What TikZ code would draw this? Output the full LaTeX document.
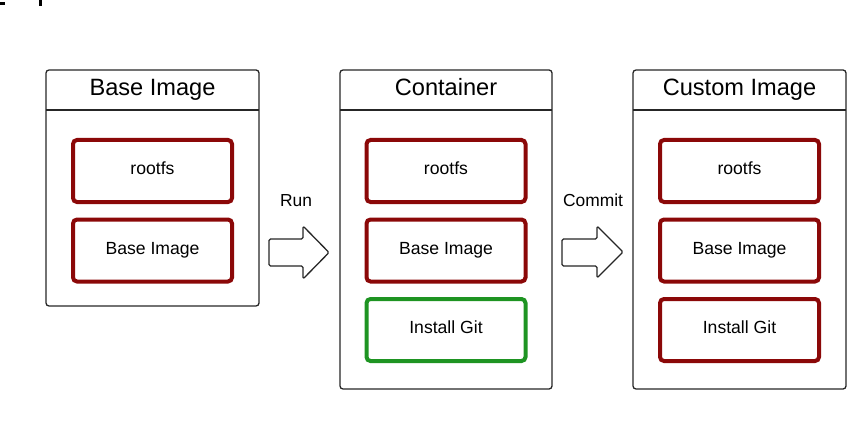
\documentclass[tikz,border=0pt]{standalone}
\usepackage{fontspec}
\setmainfont{Liberation Sans}
\begin{document}
\begin{tikzpicture}[x=1pt,y=-1pt,
  panel/.style={draw=black!85,line width=1.3pt,rounded corners=3pt},
  layer/.style={draw=layerred,line width=4pt,rounded corners=4pt,minimum width=159pt,minimum height=62pt,font=\fontsize{17.6}{20}\selectfont,inner sep=0pt,text height=7pt,text depth=0pt},
  newlayer/.style={layer,draw=layergreen},
  title/.style={font=\fontsize{23.6}{26}\selectfont,inner sep=0pt,anchor=base},
  steplabel/.style={font=\fontsize{17.4}{20}\selectfont,inner sep=0pt,anchor=base},
  flow/.style={draw=black!85,fill=white,line width=1.3pt,line join=round,rounded corners=1.5pt}]
\definecolor{layerred}{RGB}{139,8,8}
\definecolor{layergreen}{RGB}{30,148,34}
\useasboundingbox (0,0) rectangle (864,422);

% clipped marks along the top edge
\fill[black] (0,2) rectangle (5,5);
\fill[black] (39,0) rectangle (42,6);

% panels with header rule
\draw[panel] (46,70) rectangle (259,306);
\draw[black!85,line width=1.3pt] (46,110) -- (259,110);
\draw[panel] (340,70) rectangle (552,389);
\draw[black!85,line width=1.3pt] (340,110) -- (552,110);
\draw[panel] (633,70) rectangle (846,389);
\draw[black!85,line width=1.3pt] (633,110) -- (846,110);

\node[title] (t1) at (152.5,95.5) {Base Image};
\node[title] (t2) at (446,95.5) {Container};
\node[title] (t3) at (739.5,95.5) {Custom Image};

% layers
\node[layer] (a1) at (152.5,171) {rootfs};
\node[layer] (a2) at (152.5,250.5) {Base Image};

\node[layer] (b1) at (446,171) {rootfs};
\node[layer] (b2) at (446,250.5) {Base Image};
\node[newlayer] (b3) at (446,330) {Install Git};

\node[layer] (c1) at (739.5,171) {rootfs};
\node[layer] (c2) at (739.5,250.5) {Base Image};
\node[layer] (c3) at (739.5,330) {Install Git};

% step arrows
\draw[flow] (269,239) -- (303,239) -- (303,226) -- (329,252.5) -- (303,279) -- (303,266) -- (269,266) -- cycle;
\node[steplabel] (run) at (296,207) {Run};
\draw[flow] (562,239) -- (597,239) -- (597,226) -- (623,252) -- (597,278) -- (597,266) -- (562,266) -- cycle;
\node[steplabel] (commit) at (593,207) {Commit};
\end{tikzpicture}
\end{document}
